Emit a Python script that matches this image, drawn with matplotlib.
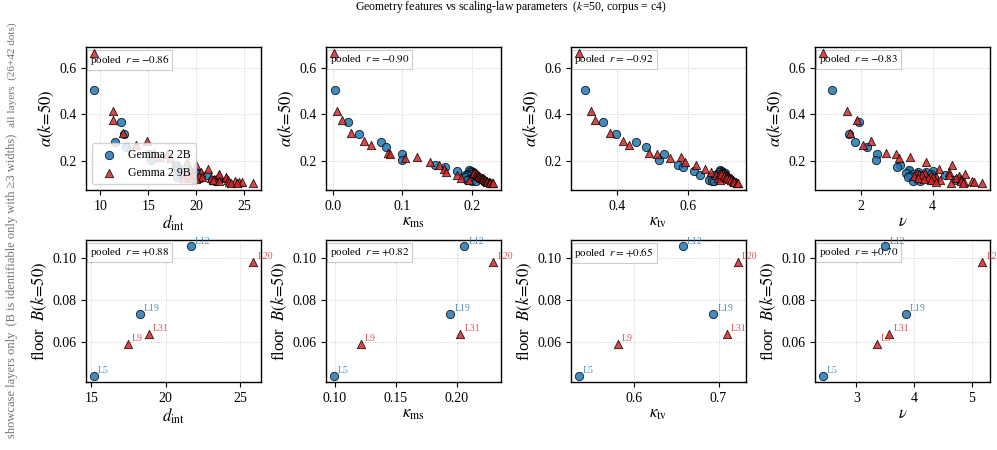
import matplotlib
matplotlib.use("Agg")
import matplotlib.pyplot as plt

plt.rcParams["font.family"] = ["Liberation Serif", "DejaVu Serif"]
plt.rcParams["mathtext.fontset"] = "stix"

# ---- per-layer geometry features and fitted alpha, Gemma 2 2B (26 layers) ----
alpha_2b = [0.506, 0.368, 0.315, 0.281, 0.261, 0.230, 0.206, 0.184, 0.176, 0.158, 0.140,
            0.160, 0.157, 0.155, 0.152, 0.149, 0.146, 0.143, 0.138, 0.135, 0.131, 0.128,
            0.124, 0.120, 0.116, 0.113]
dint_2b = [9.35, 12.15, 12.5, 11.5, 12.7, 15.1, 15.3, 17.9, 18.0, 18.3, 21.1,
           18.1, 19.2, 18.6, 19.8, 18.2, 18.9, 20.3, 18.4, 19.5, 18.0, 20.4,
           22.2, 21.6, 22.0, 21.9]
kms_2b = [0.0033, 0.022, 0.038, 0.069, 0.077, 0.100, 0.100, 0.147, 0.161, 0.179, 0.190,
          0.195, 0.199, 0.201, 0.197, 0.203, 0.194, 0.199, 0.192, 0.196, 0.190, 0.198,
          0.195, 0.193, 0.200, 0.205]
ktv_2b = [0.309, 0.361, 0.398, 0.453, 0.481, 0.533, 0.520, 0.572, 0.586, 0.618, 0.635,
          0.690, 0.695, 0.700, 0.688, 0.705, 0.684, 0.698, 0.676, 0.690, 0.665, 0.702,
          0.672, 0.660, 0.668, 0.675]
nu_2b = [1.195, 1.935, 1.676, 1.83, 2.17, 2.44, 2.43, 3.08, 3.00, 3.35, 4.35,
         3.35, 4.00, 3.82, 3.60, 3.25, 3.95, 3.45, 3.70, 3.38, 3.30, 4.05,
         3.55, 4.62, 3.45, 3.65]

# ---- Gemma 2 9B (42 layers) ----
alpha_9b = [0.662, 0.413, 0.375, 0.322, 0.284, 0.267, 0.235, 0.232, 0.215, 0.217,
            0.197, 0.181, 0.164, 0.154, 0.140, 0.129, 0.120,
            0.150, 0.148, 0.146, 0.143, 0.141, 0.139, 0.137, 0.135, 0.133, 0.131,
            0.129, 0.127, 0.125, 0.123, 0.121, 0.119, 0.117, 0.115, 0.113, 0.112,
            0.110, 0.109, 0.107, 0.106, 0.104]
dint_9b = [9.33, 11.34, 11.34, 12.3, 14.8, 13.7, 15.6, 16.9, 17.2, 16.2,
           19.05, 19.97, 21.2, 20.5, 22.4, 23.1, 21.8,
           18.7, 19.4, 18.9, 22.4, 19.8, 19.1, 20.3, 19.6, 23.1, 20.6,
           19.3, 21.5, 18.6, 21.8, 20.0, 23.3, 21.7, 24.0, 22.3, 23.4,
           24.4, 24.7, 23.6, 25.9, 24.2]
kms_9b = [0.002, 0.0066, 0.013, 0.0265, 0.045, 0.0545, 0.079, 0.082, 0.104, 0.121,
          0.139, 0.152, 0.160, 0.163, 0.178, 0.184, 0.196,
          0.201, 0.203, 0.205, 0.206, 0.207, 0.208, 0.209, 0.210, 0.211, 0.212,
          0.213, 0.214, 0.215, 0.216, 0.217, 0.218, 0.219, 0.220, 0.221, 0.222,
          0.224, 0.225, 0.226, 0.228, 0.230]
ktv_9b = [0.293, 0.327, 0.337, 0.380, 0.417, 0.435, 0.490, 0.513, 0.550, 0.580,
          0.593, 0.623, 0.650, 0.667, 0.680, 0.685, 0.690,
          0.690, 0.700, 0.695, 0.705, 0.708, 0.712, 0.715, 0.702, 0.718, 0.709,
          0.720, 0.722, 0.712, 0.725, 0.718, 0.727, 0.722, 0.730, 0.728, 0.733,
          0.735, 0.732, 0.738, 0.740, 0.742]
nu_9b = [0.94, 1.60, 1.88, 1.68, 2.28, 2.06, 2.69, 2.98, 3.07, 3.36,
         3.81, 4.55, 4.19, 4.45, 4.45, 4.70, 4.00,
         3.55, 3.80, 3.62, 4.90, 3.95, 3.70, 4.75, 3.48, 4.10, 4.02,
         3.88, 4.65, 3.58, 4.80, 3.75, 3.95, 4.20, 4.78, 5.10, 4.10,
         4.88, 5.15, 4.52, 5.38, 4.85]

# ---- showcase layers with an identifiable floor B ----
show_2b_labels = ["L5", "L12", "L19"]
show_2b_B = [0.044, 0.1057, 0.0735]
show_2b_dint = [15.18, 21.67, 18.24]
show_2b_kms = [0.0995, 0.206, 0.1945]
show_2b_ktv = [0.5353, 0.658, 0.694]
show_2b_nu = [2.42, 3.50, 3.855]

show_9b_labels = ["L9", "L20", "L31"]
show_9b_B = [0.0590, 0.0984, 0.0638]
show_9b_dint = [17.46, 25.87, 18.87]
show_9b_kms = [0.1215, 0.2297, 0.2027]
show_9b_ktv = [0.581, 0.723, 0.710]
show_9b_nu = [3.35, 5.18, 3.57]

feature_labels = [r"$d_{\rm int}$", r"$\kappa_{\rm ms}$", r"$\kappa_{\rm tv}$", r"$\nu$"]
pooled_r_alpha = ["-0.86", "-0.90", "-0.92", "-0.83"]
pooled_r_floor = ["+0.88", "+0.82", "+0.65", "+0.70"]

top_x_2b = [dint_2b, kms_2b, ktv_2b, nu_2b]
top_x_9b = [dint_9b, kms_9b, ktv_9b, nu_9b]
bot_x_2b = [show_2b_dint, show_2b_kms, show_2b_ktv, show_2b_nu]
bot_x_9b = [show_9b_dint, show_9b_kms, show_9b_ktv, show_9b_nu]

C2B = "#1f77b4"
C9B = "#d62728"

fig = plt.figure(figsize=(9.97, 4.5), dpi=100)
lefts = [0.0863, 0.327, 0.5727, 0.8175]
width = 0.1755
top_axes = [fig.add_axes([l, 0.578, width, 0.318]) for l in lefts]
bot_axes = [fig.add_axes([l, 0.151, width, 0.316]) for l in lefts]

mk = dict(s=36, edgecolors="black", linewidths=0.6, alpha=0.85, zorder=3)


def style(ax):
    ax.grid(True, linestyle=":", color="0.8", linewidth=0.7)
    ax.set_axisbelow(True)
    ax.tick_params(labelsize=10, length=3.5, width=0.8)
    for sp in ax.spines.values():
        sp.set_linewidth(1.0)


def pooled_box(ax, r):
    ax.text(0.02, 0.955, r"pooled  $r=" + r + "$", transform=ax.transAxes,
            fontsize=8, va="top", ha="left", zorder=2.5,
            bbox=dict(boxstyle="square,pad=0.25", fc="white", ec="0.8", lw=0.8))


for i, ax in enumerate(top_axes):
    style(ax)
    ax.scatter(top_x_2b[i], alpha_2b, marker="o", color=C2B, label="Gemma 2 2B", **mk)
    ax.scatter(top_x_9b[i], alpha_9b, marker="^", color=C9B, label="Gemma 2 9B", **mk)
    ax.set_xlabel(feature_labels[i], fontsize=12, labelpad=1)
    ax.set_ylabel(r"$\alpha(k\!=\!50)$", fontsize=12, labelpad=2)
    ax.set_yticks([0.2, 0.4, 0.6])
    pooled_box(ax, pooled_r_alpha[i])
    if i == 0:
        leg = ax.legend(loc="lower left", fontsize=8.5, frameon=True, borderpad=0.45,
                        handletextpad=0.6, edgecolor="0.8", framealpha=0.85)
        leg.set_zorder(6)

for i, ax in enumerate(bot_axes):
    style(ax)
    ax.scatter(bot_x_2b[i], show_2b_B, marker="o", color=C2B, **mk)
    ax.scatter(bot_x_9b[i], show_9b_B, marker="^", color=C9B, **mk)
    for x, y, t in zip(bot_x_2b[i], show_2b_B, show_2b_labels):
        ax.annotate(t, (x, y), xytext=(3, 2), textcoords="offset points",
                    fontsize=7, color=C2B, alpha=0.8, zorder=4)
    for x, y, t in zip(bot_x_9b[i], show_9b_B, show_9b_labels):
        ax.annotate(t, (x, y), xytext=(3, 2), textcoords="offset points",
                    fontsize=7, color=C9B, alpha=0.8, zorder=4)
    ax.set_xlabel(feature_labels[i], fontsize=12, labelpad=1)
    ax.set_ylabel(r"floor  $B(k\!=\!50)$", fontsize=12, labelpad=2)
    ax.set_yticks([0.06, 0.08, 0.10])
    pooled_box(ax, pooled_r_floor[i])

bot_axes[0].set_xticks([15, 20, 25])
bot_axes[1].set_xticks([0.10, 0.15, 0.20])
bot_axes[2].set_xticks([0.6, 0.7])
bot_axes[3].set_xticks([3, 4, 5])

fig.text(0.512, 1.003, r"Geometry features vs scaling-law parameters  ($k$=50, corpus = c4)",
         ha="center", va="top", fontsize=8.5)
fig.text(0.012, 1 - 75 / 450, "all layers  (26+42 dots)", rotation=90,
         ha="center", va="center", fontsize=8.1, color="0.45")
fig.text(0.012, 1 - 286 / 450, "showcase layers only  (B is identifiable only with \u22653 widths)",
         rotation=90, ha="center", va="center", fontsize=9, color="0.45")

fig.savefig("out.png", dpi=100)
